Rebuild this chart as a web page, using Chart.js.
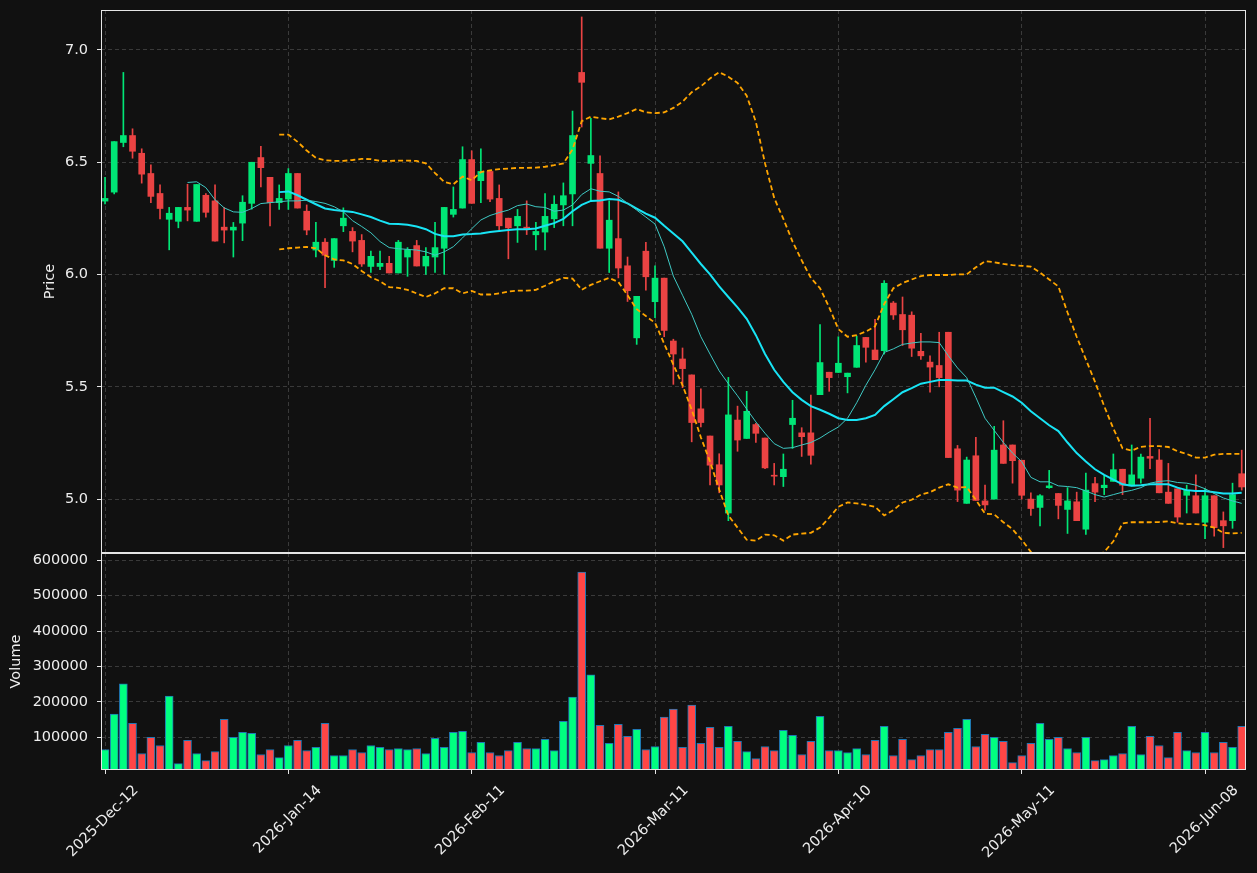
<!DOCTYPE html>
<html>
<head>
<meta charset="utf-8">
<title>Price and volume</title>
<script src="https://cdn.jsdelivr.net/npm/chart.js@4.4.1/dist/chart.umd.min.js"></script>
<style>
    html, body { margin: 0; padding: 0; background: #111111; }
    #wrap { position: relative; width: 1257px; height: 873px; overflow: hidden; }
    #wrap canvas { position: absolute; left: 0; }
    #priceChart { top: 0; }
    #volumeChart { top: 553px; }
</style>
</head>
<body>
<div id="wrap">
    <canvas id="priceChart" width="1257" height="554"></canvas>
    <canvas id="volumeChart" width="1257" height="320"></canvas>
</div>
<script>
// x axis labels (every 20th session)
const tickIndex = [0, 20, 40, 60, 80, 100, 120];
const tickLabels = ['2025-Dec-12', '2026-Jan-14', '2026-Feb-11', '2026-Mar-11', '2026-Apr-10', '2026-May-11', '2026-Jun-08'];

// ohlc values, one per session
const opens = [
    6.327, 6.367, 6.588, 6.619, 6.540, 6.450, 6.361, 6.246, 6.237, 6.299,
    6.237, 6.353, 6.328, 6.211, 6.198, 6.229, 6.317, 6.521, 6.433, 6.320,
    6.336, 6.450, 6.282, 6.109, 6.144, 6.063, 6.217, 6.192, 6.152, 6.036,
    6.036, 6.050, 6.007, 6.078, 6.129, 6.038, 6.078, 6.117, 6.268, 6.296,
    6.512, 6.418, 6.459, 6.339, 6.251, 6.217, 6.211, 6.177, 6.189, 6.248,
    6.310, 6.359, 6.900, 6.495, 6.450, 6.117, 6.160, 6.039, 5.718, 6.104,
    5.879, 5.984, 5.704, 5.624, 5.553, 5.402, 5.281, 5.153, 4.938, 5.352,
    5.270, 5.332, 5.272, 5.105, 5.100, 5.332, 5.295, 5.295, 5.465, 5.565,
    5.564, 5.545, 5.587, 5.720, 5.664, 5.661, 5.873, 5.822, 5.819, 5.658,
    5.610, 5.595, 5.743, 5.224, 4.981, 5.193, 4.992, 5.000, 5.241, 5.241,
    5.173, 5.000, 4.963, 5.051, 5.025, 4.954, 4.988, 4.866, 5.069, 5.051,
    5.079, 5.133, 5.059, 5.093, 5.190, 5.174, 5.031, 5.046, 5.017, 5.015,
    4.897, 5.015, 4.904, 4.904, 5.113
];
const highs = [
    6.433, 6.592, 6.900, 6.649, 6.560, 6.489, 6.399, 6.299, 6.299, 6.402,
    6.401, 6.361, 6.399, 6.299, 6.232, 6.351, 6.500, 6.571, 6.433, 6.399,
    6.472, 6.450, 6.310, 6.232, 6.160, 6.160, 6.297, 6.209, 6.178, 6.104,
    6.104, 6.081, 6.152, 6.120, 6.152, 6.120, 6.232, 6.299, 6.390, 6.569,
    6.551, 6.560, 6.459, 6.399, 6.251, 6.290, 6.328, 6.232, 6.361, 6.351,
    6.408, 6.728, 7.147, 6.696, 6.529, 6.328, 6.368, 6.078, 5.903, 6.143,
    6.039, 5.984, 5.712, 5.673, 5.553, 5.491, 5.281, 5.202, 5.542, 5.414,
    5.480, 5.337, 5.272, 5.159, 5.201, 5.440, 5.318, 5.463, 5.777, 5.565,
    5.723, 5.561, 5.726, 5.720, 5.800, 5.973, 5.880, 5.900, 5.834, 5.738,
    5.638, 5.743, 5.743, 5.239, 5.187, 5.275, 5.062, 5.324, 5.349, 5.241,
    5.173, 5.028, 5.020, 5.128, 5.025, 5.051, 5.031, 5.116, 5.097, 5.105,
    5.201, 5.133, 5.241, 5.201, 5.360, 5.221, 5.159, 5.046, 5.062, 5.108,
    5.046, 5.015, 4.943, 5.071, 5.218
];
const lows = [
    6.314, 6.359, 6.569, 6.518, 6.407, 6.320, 6.248, 6.110, 6.208, 6.239,
    6.237, 6.256, 6.149, 6.141, 6.078, 6.151, 6.291, 6.390, 6.217, 6.290,
    6.290, 6.296, 6.177, 6.078, 5.942, 6.032, 6.191, 6.101, 6.036, 6.009,
    6.022, 6.007, 6.007, 5.992, 6.038, 6.001, 6.009, 6.001, 6.256, 6.296,
    6.317, 6.320, 6.325, 6.198, 6.070, 6.143, 6.178, 6.110, 6.110, 6.209,
    6.217, 6.217, 6.657, 6.328, 6.117, 6.009, 5.985, 5.880, 5.689, 5.930,
    5.808, 5.723, 5.511, 5.496, 5.255, 5.321, 5.063, 5.028, 4.904, 5.213,
    5.270, 5.252, 5.136, 5.063, 5.056, 5.226, 5.190, 5.156, 5.465, 5.480,
    5.564, 5.473, 5.587, 5.610, 5.621, 5.646, 5.800, 5.684, 5.635, 5.622,
    5.476, 5.500, 5.185, 4.989, 4.981, 4.994, 4.951, 5.000, 5.159, 5.071,
    5.000, 4.927, 4.881, 5.048, 4.912, 4.847, 4.904, 4.843, 4.989, 5.020,
    5.079, 5.020, 5.059, 5.071, 5.136, 5.028, 4.981, 4.897, 4.938, 4.938,
    4.824, 4.835, 4.784, 4.870, 5.040
];
const closes = [
    6.339, 6.592, 6.619, 6.549, 6.447, 6.348, 6.294, 6.273, 6.299, 6.287,
    6.401, 6.277, 6.149, 6.198, 6.211, 6.322, 6.500, 6.476, 6.320, 6.339,
    6.450, 6.296, 6.198, 6.144, 6.086, 6.160, 6.251, 6.149, 6.047, 6.081,
    6.050, 6.007, 6.144, 6.110, 6.038, 6.081, 6.120, 6.299, 6.290, 6.512,
    6.317, 6.459, 6.336, 6.217, 6.208, 6.259, 6.205, 6.192, 6.259, 6.313,
    6.351, 6.619, 6.856, 6.530, 6.117, 6.242, 6.029, 5.928, 5.903, 5.990,
    5.984, 5.751, 5.646, 5.581, 5.341, 5.341, 5.151, 5.063, 5.375, 5.263,
    5.391, 5.293, 5.139, 5.102, 5.133, 5.360, 5.278, 5.195, 5.608, 5.541,
    5.605, 5.561, 5.684, 5.676, 5.621, 5.961, 5.820, 5.754, 5.672, 5.638,
    5.588, 5.541, 5.185, 5.040, 5.174, 4.994, 4.974, 5.218, 5.159, 5.171,
    5.017, 4.958, 5.015, 5.059, 4.972, 4.992, 4.904, 5.040, 5.031, 5.062,
    5.131, 5.062, 5.108, 5.187, 5.182, 5.028, 4.981, 4.920, 5.040, 4.938,
    5.015, 4.873, 4.881, 5.020, 5.054
];
const volumes = [
    65900, 165400, 250700, 139800, 54500, 100000, 77200, 216600, 26100, 91500,
    54500, 34600, 60200, 151200, 100000, 114200, 111400, 51700, 65900, 43100,
    77200, 91500, 63000, 71600, 139800, 48800, 48800, 65900, 57300, 77200,
    71600, 65900, 68700, 65900, 68700, 54500, 97200, 71600, 114200, 117100,
    57300, 85800, 57300, 48800, 63000, 85800, 68700, 68700, 94300, 63000,
    145500, 213700, 566400, 276300, 134100, 82900, 137000, 102800, 122700, 65900,
    74400, 156900, 179600, 71600, 191000, 82900, 128400, 71600, 131300, 88600,
    60200, 40300, 74400, 63000, 119900, 105700, 51700, 88600, 159700, 63000,
    63000, 57300, 68700, 51700, 91500, 131300, 48800, 94300, 37400, 48800,
    65900, 65900, 114200, 125600, 151200, 74400, 108500, 100000, 88600, 28900,
    48800, 82900, 139800, 94300, 100000, 68700, 57300, 100000, 34600, 37400,
    48800, 54500, 131300, 51700, 102800, 77200, 43100, 114200, 63000, 57300,
    114200, 57300, 85800, 71600, 131300
];

// overlay lines (null = not drawn yet)
const maFast = [
    null, null, null, null, null, null, null, null, null, 6.410,
    6.413, 6.387, 6.333, 6.297, 6.279, 6.277, 6.294, 6.316, 6.320, 6.324,
    6.328, 6.328, 6.331, 6.325, 6.317, 6.302, 6.279, 6.240, 6.214, 6.186,
    6.147, 6.120, 6.115, 6.112, 6.109, 6.101, 6.086, 6.101, 6.124, 6.163,
    6.204, 6.243, 6.263, 6.276, 6.287, 6.307, 6.314, 6.302, 6.299, 6.282,
    6.287, 6.310, 6.356, 6.382, 6.371, 6.368, 6.348, 6.317, 6.287, 6.256,
    6.225, 6.124, 5.993, 5.908, 5.823, 5.723, 5.646, 5.571, 5.514, 5.460,
    5.401, 5.344, 5.293, 5.247, 5.226, 5.229, 5.241, 5.252, 5.272, 5.298,
    5.321, 5.360, 5.429, 5.507, 5.576, 5.653, 5.669, 5.689, 5.695, 5.700,
    5.700, 5.697, 5.638, 5.584, 5.541, 5.453, 5.360, 5.306, 5.252, 5.205,
    5.167, 5.097, 5.077, 5.077, 5.059, 5.056, 5.051, 5.036, 5.020, 5.009,
    5.020, 5.031, 5.039, 5.051, 5.071, 5.079, 5.082, 5.074, 5.071, 5.062,
    5.046, 5.025, 5.005, 4.992, 4.981
];
const maSlow = [
    null, null, null, null, null, null, null, null, null, null,
    null, null, null, null, null, null, null, null, null, 6.367,
    6.370, 6.353, 6.333, 6.313, 6.294, 6.287, 6.283, 6.279, 6.268, 6.256,
    6.240, 6.226, 6.225, 6.222, 6.214, 6.202, 6.181, 6.171, 6.171, 6.178,
    6.180, 6.183, 6.189, 6.194, 6.198, 6.202, 6.202, 6.205, 6.217, 6.229,
    6.248, 6.282, 6.310, 6.328, 6.330, 6.336, 6.333, 6.317, 6.294, 6.271,
    6.253, 6.217, 6.183, 6.148, 6.098, 6.047, 6.001, 5.947, 5.900, 5.854,
    5.803, 5.730, 5.646, 5.576, 5.522, 5.476, 5.442, 5.414, 5.398, 5.380,
    5.360, 5.352, 5.352, 5.360, 5.375, 5.414, 5.445, 5.476, 5.494, 5.514,
    5.522, 5.530, 5.530, 5.528, 5.528, 5.510, 5.496, 5.496, 5.476, 5.457,
    5.429, 5.391, 5.360, 5.329, 5.303, 5.252, 5.205, 5.167, 5.133, 5.108,
    5.087, 5.066, 5.059, 5.062, 5.066, 5.066, 5.066, 5.051, 5.040, 5.036,
    5.036, 5.031, 5.025, 5.025, 5.028
];
const bandUpper = [
    null, null, null, null, null, null, null, null, null, null,
    null, null, null, null, null, null, null, null, null, 6.623,
    6.623, 6.591, 6.552, 6.520, 6.509, 6.506, 6.506, 6.510, 6.515, 6.514,
    6.506, 6.506, 6.507, 6.507, 6.506, 6.495, 6.452, 6.413, 6.402, 6.436,
    6.420, 6.456, 6.464, 6.469, 6.472, 6.475, 6.475, 6.476, 6.480, 6.487,
    6.495, 6.557, 6.683, 6.703, 6.696, 6.691, 6.703, 6.719, 6.737, 6.722,
    6.719, 6.722, 6.742, 6.770, 6.812, 6.838, 6.873, 6.901, 6.881, 6.853,
    6.796, 6.680, 6.495, 6.341, 6.248, 6.147, 6.063, 5.985, 5.939, 5.854,
    5.757, 5.723, 5.730, 5.746, 5.769, 5.869, 5.939, 5.962, 5.978, 5.993,
    5.998, 5.998, 5.998, 6.001, 6.001, 6.032, 6.059, 6.055, 6.047, 6.042,
    6.039, 6.035, 6.009, 5.978, 5.947, 5.831, 5.723, 5.622, 5.522, 5.414,
    5.314, 5.226, 5.216, 5.233, 5.236, 5.236, 5.232, 5.213, 5.201, 5.185,
    5.185, 5.198, 5.201, 5.201, 5.201
];
const bandLower = [
    null, null, null, null, null, null, null, null, null, null,
    null, null, null, null, null, null, null, null, null, 6.112,
    6.117, 6.120, 6.123, 6.117, 6.086, 6.067, 6.063, 6.047, 6.016, 5.988,
    5.970, 5.944, 5.941, 5.932, 5.916, 5.900, 5.916, 5.939, 5.939, 5.916,
    5.927, 5.911, 5.911, 5.916, 5.924, 5.928, 5.928, 5.932, 5.950, 5.970,
    5.985, 5.982, 5.932, 5.954, 5.970, 5.985, 5.967, 5.908, 5.846, 5.815,
    5.785, 5.692, 5.599, 5.507, 5.398, 5.275, 5.167, 5.043, 4.927, 4.873,
    4.819, 4.815, 4.842, 4.839, 4.815, 4.842, 4.846, 4.850, 4.873, 4.917,
    4.966, 4.985, 4.981, 4.974, 4.966, 4.927, 4.951, 4.985, 4.997, 5.020,
    5.031, 5.051, 5.066, 5.051, 5.054, 4.997, 4.935, 4.932, 4.897, 4.866,
    4.819, 4.765, 4.720, 4.680, 4.660, 4.660, 4.680, 4.710, 4.740, 4.765,
    4.812, 4.892, 4.897, 4.897, 4.897, 4.898, 4.901, 4.892, 4.889, 4.889,
    4.884, 4.873, 4.850, 4.847, 4.850
];

// colours
const candleUp = '#00e676';
const candleDown = '#ea4343';
const volUp = '#00ff80';
const volDown = '#ff4646';
const gridColor = '#3a3a3a';
const textColor = '#eeeeee';
const frameColor = '#e6e6e6';
const baseFont = { family: 'DejaVu Sans', size: 14.5 };

// green when close >= open
function isUp(i) {
    return closes[i] >= opens[i];
}

// build {x, y} points for a value list
function linePoints(values) {
    return values.map(function (v, i) {
        return { x: i, y: v };
    });
}

// no extra label padding around the plot area
function dropPadding(scale) {
    scale.paddingTop = 0;
    scale.paddingBottom = 0;
    scale.paddingLeft = 0;
    scale.paddingRight = 0;
}

// draws the white box round each panel
const framePlugin = {
    id: 'frame',
    afterDraw: function (chart) {
        const a = chart.chartArea;
        const ctx = chart.ctx;
        ctx.save();
        ctx.strokeStyle = frameColor;
        ctx.lineWidth = 1;
        ctx.strokeRect(a.left + 0.5, a.top + 0.5, a.right - a.left - 1, a.bottom - a.top - 1);
        ctx.restore();
    }
};

// shared x scale, session index based
function buildXScale(showLabels) {
    return {
        type: 'linear',
        min: -0.44,
        max: 124.47,
        offset: false,
        afterBuildTicks: function (scale) {
            scale.ticks = tickIndex.map(function (v) { return { value: v }; });
        },
        afterFit: function (scale) {
            scale.height = showLabels ? 103 : 0;
            dropPadding(scale);
        },
        border: { display: false, dash: [4, 3] },
        grid: {
            offset: false,
            color: gridColor,
            drawTicks: showLabels,
            tickLength: 4,
            tickColor: frameColor,
            tickBorderDash: []
        },
        ticks: {
            display: showLabels,
            autoSkip: false,
            minRotation: 45,
            maxRotation: 45,
            labelOffset: 31,
            padding: 8,
            color: textColor,
            font: baseFont,
            callback: function (value) {
                const k = tickIndex.indexOf(value);
                return k >= 0 ? tickLabels[k] : '';
            }
        }
    };
}

// left axis with fixed width so both panels line up
function buildYScale(min, max, values, title, titlePad, fmt) {
    return {
        type: 'linear',
        position: 'left',
        min: min,
        max: max,
        afterBuildTicks: function (scale) {
            scale.ticks = values.map(function (v) { return { value: v }; });
        },
        afterFit: function (scale) {
            scale.width = 101;
            dropPadding(scale);
        },
        border: { display: false, dash: [4, 3] },
        grid: {
            color: gridColor,
            drawTicks: true,
            tickLength: 4,
            tickColor: frameColor,
            tickBorderDash: []
        },
        ticks: {
            padding: 9,
            color: textColor,
            font: baseFont,
            callback: fmt
        },
        title: {
            display: true,
            text: title,
            color: textColor,
            font: baseFont,
            padding: { top: titlePad, bottom: 0 }
        }
    };
}

// price panel: wicks, bodies, then lines on top
const candleColors = opens.map(function (o, i) { return isUp(i) ? candleUp : candleDown; });

const priceConfig = {
    type: 'bar',
    data: {
        datasets: [
            {
                label: 'wick',
                data: lows.map(function (l, i) { return { x: i, y: [l, highs[i]] }; }),
                backgroundColor: candleColors,
                barThickness: 1,
                grouped: false,
                order: 3
            },
            {
                label: 'body',
                data: opens.map(function (o, i) { return { x: i, y: [o, closes[i]] }; }),
                backgroundColor: candleColors,
                barThickness: 6,
                minBarLength: 1,
                grouped: false,
                order: 2
            },
            {
                type: 'line',
                label: 'upper',
                data: linePoints(bandUpper),
                borderColor: '#ffa500',
                borderWidth: 1.8,
                borderDash: [5, 3],
                pointRadius: 0,
                order: 1
            },
            {
                type: 'line',
                label: 'lower',
                data: linePoints(bandLower),
                borderColor: '#ffa500',
                borderWidth: 1.8,
                borderDash: [5, 3],
                pointRadius: 0,
                order: 1
            },
            {
                type: 'line',
                label: 'fast',
                data: linePoints(maFast),
                borderColor: '#3fc9c4',
                borderWidth: 1,
                pointRadius: 0,
                order: 0
            },
            {
                type: 'line',
                label: 'slow',
                data: linePoints(maSlow),
                borderColor: '#18e4f5',
                borderWidth: 2,
                pointRadius: 0,
                order: 0
            }
        ]
    },
    options: {
        responsive: false,
        animation: false,
        devicePixelRatio: 1,
        layout: { padding: { top: 10, right: 11, bottom: 1, left: 0 } },
        plugins: { legend: { display: false }, tooltip: { enabled: false } },
        scales: {
            x: buildXScale(false),
            y: buildYScale(4.76, 7.178, [5.0, 5.5, 6.0, 6.5, 7.0], 'Price', 42, function (v) { return v.toFixed(1); })
        }
    },
    plugins: [framePlugin]
};

// volume panel
const volumeConfig = {
    type: 'bar',
    data: {
        datasets: [{
            label: 'Volume',
            data: volumes.map(function (v, i) { return { x: i, y: v }; }),
            backgroundColor: volumes.map(function (v, i) { return isUp(i) ? volUp : volDown; }),
            borderColor: '#1f77b4',
            borderWidth: 1,
            barThickness: 8,
            grouped: false
        }]
    },
    options: {
        responsive: false,
        animation: false,
        devicePixelRatio: 1,
        layout: { padding: { top: 0, right: 11, bottom: 0, left: 0 } },
        plugins: { legend: { display: false }, tooltip: { enabled: false } },
        scales: {
            x: buildXScale(true),
            y: buildYScale(8000, 620000, [100000, 200000, 300000, 400000, 500000, 600000], 'Volume', 8, function (v) { return String(v); })
        }
    },
    plugins: [framePlugin]
};

// draw charts
new Chart(document.getElementById('priceChart'), priceConfig);
new Chart(document.getElementById('volumeChart'), volumeConfig);
</script>
</body>
</html>
